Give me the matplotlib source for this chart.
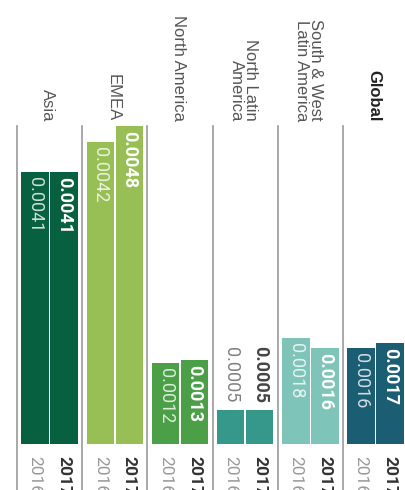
import matplotlib
matplotlib.use("Agg")
import matplotlib.pyplot as plt
import numpy as np

# data (bar heights) and the printed labels
regions = ["Asia", "EMEA", "North America", "North Latin\nAmerica",
           "South & West\nLatin America", "Global"]
years = ["2016", "2017"]
values_2016 = [0.00412, 0.00458, 0.00123, 0.00052, 0.00161, 0.00145]
values_2017 = [0.00412, 0.00482, 0.00127, 0.00052, 0.00145, 0.00153]
labels_2016 = ["0.0041", "0.0042", "0.0012", "0.0005", "0.0018", "0.0016"]
labels_2017 = ["0.0041", "0.0048", "0.0013", "0.0005", "0.0016", "0.0017"]
colors = ["#07603f", "#98bf56", "#4b9f47", "#36988b", "#7ec4b8", "#1b5d72"]

W, H = 405, 490
fig = plt.figure(figsize=(W / 100, H / 100), dpi=100)
ax = fig.add_axes([0, 0, 1, 1])
ax.axis("off")

# pixel geometry: groups 65.2 px wide, first separator at x=17, baseline at y=444
grp = 65.2
x0 = 17 + grp / 2
scale = 66000.0  # px per unit
ax.set_xlim(-x0 / grp, (W - x0) / grp)
ax.set_ylim(-(H - 444) / scale, 444 / scale)

def px(p):
    return p * 72 / 100  # pixels -> points

idx = np.arange(len(regions))
off = 0.222
bw = 0.42
ax.bar(idx - off, values_2016, bw, color=colors, zorder=2)
ax.bar(idx + off, values_2017, bw, color=colors, zorder=2)

# separators
for i in idx:
    ax.axvline(i - 0.5, ymin=0, ymax=(H - 126) / H, color="#9a9a9a", lw=1.2, zorder=1)

num_font = "Roboto"
for i in idx:
    for j, (vals, labs) in enumerate([(values_2016, labels_2016), (values_2017, labels_2017)]):
        x = i + (off if j else -off)
        v = vals[i]
        weight = "bold" if j else "normal"
        if v * scale > 60:
            col = "white" if j else (1, 1, 1, 0.8)
            ax.annotate(labs[i], (x, v), xytext=(0, -px(5)), textcoords="offset points",
                        rotation=-90, rotation_mode="anchor", ha="left", va="center",
                        fontsize=13, family=num_font, fontweight=weight, color=col, zorder=3)
        else:
            col = "#444444" if j else "#808080"
            ax.annotate(labs[i], (x, v), xytext=(0, px(7)), textcoords="offset points",
                        rotation=-90, rotation_mode="anchor", ha="right", va="center",
                        fontsize=13, family=num_font, fontweight=weight, color=col, zorder=3)
        # year label under the baseline
        ax.annotate(years[j], (x, 0), xytext=(0, -px(12)), textcoords="offset points",
                    rotation=-90, rotation_mode="anchor", ha="left", va="center",
                    fontsize=12.5, family=num_font, fontweight=weight,
                    color="#333333" if j else "#999999")

# region labels on top, ending about 121 px from the top
for i, name in enumerate(regions):
    bold = name == "Global"
    ax.text(i - 0.03, (444 - 121) / scale, name,
            rotation=-90, rotation_mode="anchor", ha="right", va="center",
            multialignment="right", fontsize=12, family="Liberation Sans",
            fontweight="bold" if bold else "normal",
            color="#222222" if bold else "#555555", linespacing=0.9)

fig.savefig("out.png", dpi=100)
